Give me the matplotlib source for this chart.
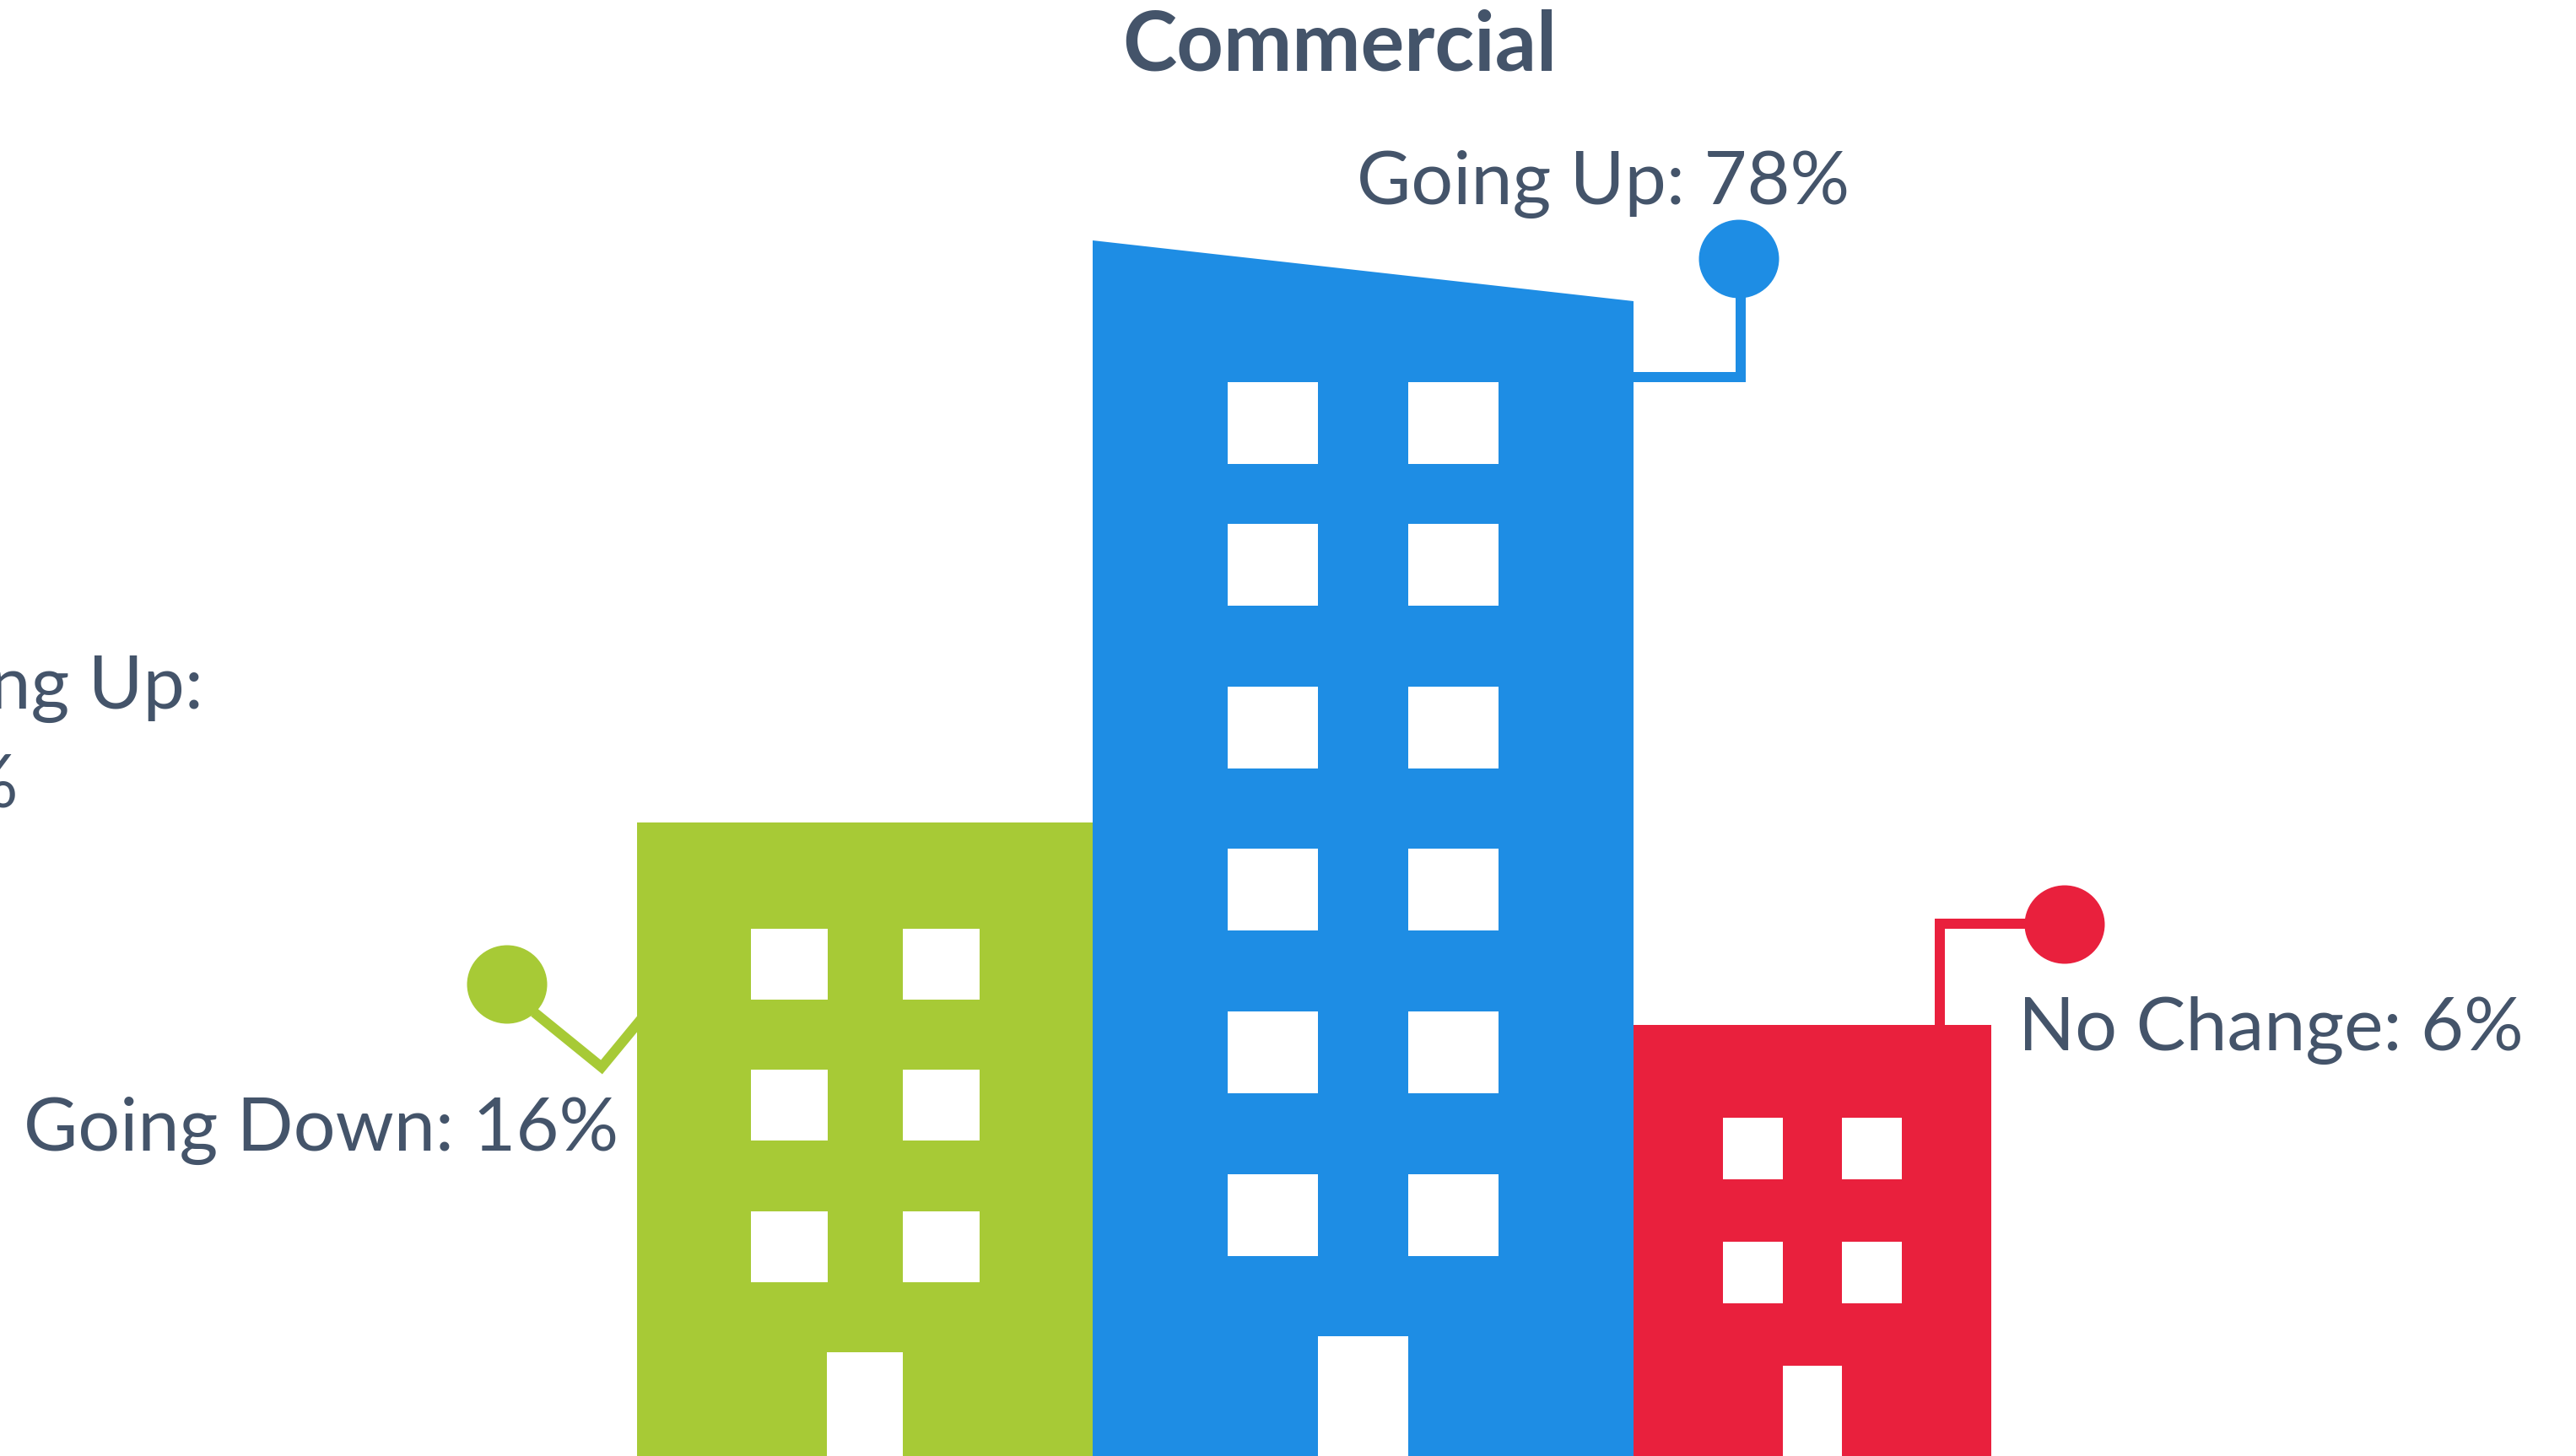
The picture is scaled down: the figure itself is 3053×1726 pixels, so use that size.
import matplotlib
matplotlib.use('Agg')
import matplotlib.pyplot as plt
from matplotlib.patches import Ellipse, Polygon, Rectangle

# chart content
title = 'Commercial'
labels = ['Going Down: 16%', 'Going Up: 78%', 'No Change: 6%']
colors = ['#A7CA36', '#1E8DE4', '#E9203D']
text_color = '#44546A'

W, H = 3053, 1726

fig = plt.figure(figsize=(W / 100, H / 100), dpi=100)
ax = fig.add_axes([0, 0, 1, 1])
ax.set_xlim(0, W)
ax.set_ylim(H, 0)
ax.axis('off')


def building(outline, col, win_x, win_y, win_w, win_h, door):
    ax.add_patch(Polygon(outline, closed=True, fc=col, ec='none'))
    for wy in win_y:
        for wx in win_x:
            ax.add_patch(Rectangle((wx, wy), win_w, win_h, fc='white', ec='none'))
    ax.add_patch(Rectangle((door[0], door[1]), door[2], H - door[1], fc='white', ec='none'))


def pin(xs, ys, cx, cy, col, lw=12):
    # line width given in pixels, figure is 100 dpi
    ax.plot(xs, ys, color=col, lw=lw * 72 / 100, solid_joinstyle='miter', solid_capstyle='butt')
    ax.add_patch(Ellipse((cx, cy), 95, 93, fc=col, ec='none', zorder=3))


# green block
building([(755, 975), (1295, 975), (1295, H), (755, H)], colors[0],
         [890, 1070], [1101, 1268, 1436], 91, 84, (980, 1603, 90))
pin([633, 713, 760], [1200, 1265, 1208], 601, 1167, colors[0])

# blue tower
building([(1295, 285), (1936, 357), (1936, H), (1295, H)], colors[1],
         [1455, 1669], [453, 621, 814, 1006, 1199, 1392], 107, 97, (1562, 1584, 107))
pin([1936, 2063, 2063], [447, 447, 340], 2061, 307, colors[1])

# red block
building([(1936, 1215), (2360, 1215), (2360, H), (1936, H)], colors[2],
         [2042, 2183], [1325, 1472], 71, 73, (2113, 1619, 70))
pin([2299, 2299, 2420], [1215, 1095, 1095], 2447, 1096, colors[2])

fs = 88 * 72 / 100
ax.text(1588, 83, title, color=text_color, family='Lato', weight='bold', fontsize=97 * 72 / 100,
        ha='center', va='baseline')
ax.text(381, 1364, labels[0], color=text_color, family='Lato', fontsize=fs, ha='center', va='baseline')
ax.text(1900, 242, labels[1], color=text_color, family='Lato', fontsize=fs, ha='center', va='baseline')
ax.text(2691, 1245, labels[2], color=text_color, family='Lato', fontsize=fs, ha='center', va='baseline')

# neighbouring chart's label, cut off by the left edge
ax.text(241, 840, 'Going Up:', color=text_color, family='Lato', fontsize=fs, ha='right', va='baseline')
ax.text(21, 957, '%', color=text_color, family='Lato', fontsize=fs, ha='right', va='baseline')

fig.savefig('out.png', dpi=100, facecolor='white')
